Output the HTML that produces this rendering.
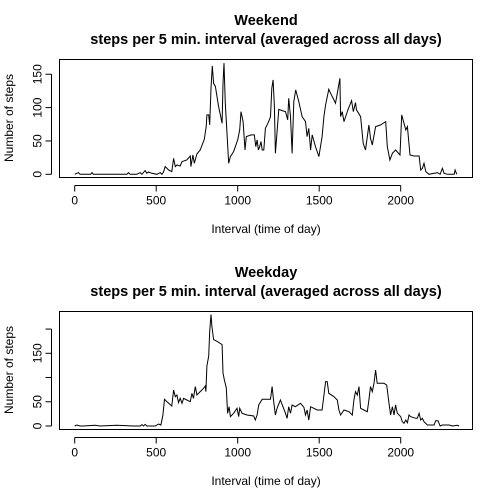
<!DOCTYPE html>
<html><head><meta charset="utf-8"><style>
body{margin:0;background:#fff;}
svg{display:block;font-family:"Liberation Sans",Arial,sans-serif;}
</style></head><body>
<svg id="c" width="504" height="504" xmlns="http://www.w3.org/2000/svg">
<rect width="504" height="504" fill="#fff"/>
</svg>
<script>
const weekendIntervals=[0,23,33,98,107,115,320,330,340,381,402,412,432,443,453,473,504,525,535,545,555,576,596,607,617,627,647,658,688,709,713,725,734,750,770,795,807,811,822,828,836,844,852,863,883,904,910,916,924,934,945,955,975,1000,1012,1020,1033,1045,1053,1082,1102,1111,1119,1127,1135,1143,1150,1160,1170,1190,1201,1209,1217,1225,1231,1252,1272,1293,1307,1313,1324,1334,1344,1356,1375,1395,1416,1426,1436,1447,1457,1477,1498,1518,1529,1539,1559,1570,1590,1600,1615,1627,1631,1641,1652,1676,1699,1709,1723,1729,1754,1770,1784,1805,1815,1826,1846,1877,1908,1918,1934,1949,1969,1996,2006,2020,2031,2041,2057,2082,2113,2123,2133,2143,2154,2174,2225,2242,2256,2266,2287,2328,2334,2344];
const weekendSteps=[0,2.5,0,0,2.5,0,0,2.5,0,0,2.5,0,5.5,1.5,3.5,1.5,0,2.5,0,3.5,11.5,6.5,4,24,11.5,14,12.5,19,21.5,27.5,11.5,29,16.5,30.5,36.5,52.5,71.5,89,89,74,129,162.5,136.5,131.5,101.5,76.5,136.5,166.5,106.5,64,16.5,26.5,34,51.5,66.5,94,79,36.5,56.5,59,59,41.5,51.5,36.5,41.5,49,36.5,36.5,69,79,86.5,129,141.5,101.5,31.5,97.5,95.5,94,81.5,114,86.5,31.5,109,126.5,109,86.5,79,56.5,69,36.5,59,41.5,26.5,56.5,86.5,104,127.5,121.5,111.5,106.5,126.5,144,86.5,94,79,96.5,110.5,94,107.5,96.5,86.5,46.5,36.5,74,54,44,71.5,74,79,41.5,21.5,31.5,36.5,29,89,76.5,66.5,71.5,29,27.5,27.5,6.5,9,16.5,4,0,2.5,0,9,1.5,0,0,6.5,0];
const weekdayIntervals=[0,12,33,53,125,156,258,361,402,412,422,432,443,494,514,529,541,551,566,596,607,617,627,637,647,658,668,688,709,719,729,740,750,770,791,801,805,811,822,828,836,842,852,873,904,910,918,930,938,947,955,975,996,1006,1012,1027,1057,1098,1108,1119,1129,1150,1180,1201,1211,1221,1231,1242,1262,1293,1303,1313,1324,1334,1354,1385,1406,1416,1426,1436,1447,1488,1518,1539,1549,1559,1590,1611,1621,1631,1652,1682,1703,1713,1723,1734,1744,1754,1774,1795,1805,1815,1826,1836,1846,1856,1897,1914,1928,1938,1949,1959,1969,1979,2000,2010,2020,2031,2041,2051,2061,2092,2102,2113,2123,2133,2143,2164,2205,2215,2229,2242,2256,2277,2297,2318,2348,2358];
const weekdaySteps=[0,2,0,0,1.4,0,1.4,0,0,2.8,0,3.4,0,0,4.1,2.1,22.7,55,50.2,41.3,74.3,60.5,64,48.2,57.1,46.8,57.1,53.7,50.2,67.4,57.1,81.2,64,70.9,77.7,82.6,70.9,123.8,144.5,195.4,229.8,205.7,178.2,174.8,167.9,109.4,95.7,78.4,26.1,39.9,19.3,26.1,36.5,19.3,36.5,26.1,22.7,20.6,12.4,22.7,43.3,55,55,55,81.2,50.2,22.7,36.5,53.7,26.1,15.8,39.9,26.1,43.3,39.9,46.8,38.5,22.7,33,12.4,39.9,33,33,91.5,91.5,67.4,60.5,53.7,33,22.7,33,29.6,22.7,53.7,70.9,64,81.2,36.5,33,29.6,53.7,81.2,70.9,88.1,115.6,88.1,88.1,84.6,46.8,22.7,39.9,22.7,43.3,26.1,19.3,9,5.5,12.4,6.9,22.7,19.3,15.8,15.8,26.1,12.4,15.8,8.9,2.1,2.1,11,11,0,2.1,2.1,2.1,0,1.4,0];
const xTicks=[0,500,1000,1500,2000];
const weekendYTicks=[0,50,100,150];
const weekendYLabels=["0","50","100","150"];
const weekdayYTicks=[0,50,100,150,200];
const weekdayYLabels=["0","50","","150",""];

const NS="http://www.w3.org/2000/svg";
const svg=document.getElementById('c');
function mk(t,a,p){const e=document.createElementNS(NS,t);for(const k in a)e.setAttribute(k,a[k]);(p||svg).appendChild(e);return e;}
const xS=v=>74.7+v*0.163;

function panel(cfg){
  const g=mk('g',{});
  
  
  const yS=v=>cfg.y0-v*cfg.k;
  let t=mk('text',{x:266,y:cfg.top-34,'text-anchor':'middle','font-size':14.5,'font-weight':'bold'},g);t.textContent=cfg.title;
  
  t=mk('text',{x:266,y:cfg.top-15,'text-anchor':'middle','font-size':14.5,'font-weight':'bold'},g);t.textContent='steps per 5 min. interval (averaged across all days)';
  
  const box=mk('rect',{x:59.5,y:cfg.top+0.5,width:413,height:118,fill:'none',stroke:'#000','stroke-width':1},g);
  
  const xa=mk('g',{},g);
  
  const ay=cfg.top+126.5;
  mk('line',{x1:xS(xTicks[0]),x2:xS(xTicks[xTicks.length-1]),y1:ay,y2:ay,stroke:'#000'},xa);
  xTicks.forEach(v=>{mk('line',{x1:xS(v),x2:xS(v),y1:ay,y2:ay+6,stroke:'#000'},xa);
    const l=mk('text',{x:xS(v),y:ay+19,'text-anchor':'middle','font-size':12},xa);l.textContent=v;
    });
  t=mk('text',{x:266,y:cfg.top+174,'text-anchor':'middle','font-size':12},g);t.textContent='Interval (time of day)';
  
  const ya=mk('g',{},g);
  
  const axx=51.5;
  mk('line',{x1:axx,x2:axx,y1:yS(cfg.yt[0]),y2:yS(cfg.yt[cfg.yt.length-1]),stroke:'#000'},ya);
  cfg.yt.forEach((v,i)=>{mk('line',{x1:axx-6,x2:axx,y1:yS(v),y2:yS(v),stroke:'#000'},ya);
    if(cfg.yl[i]){const l=mk('text',{x:0,y:0,'text-anchor':'middle','font-size':12,transform:`translate(${axx-10},${yS(v)}) rotate(-90)`},ya);l.textContent=cfg.yl[i];
    }});
  t=mk('text',{x:0,y:0,'text-anchor':'middle','font-size':12,transform:`translate(13,${cfg.top+59}) rotate(-90)`},g);t.textContent='Number of steps';
  
  const pts=cfg.xs.map((x,i)=>xS(x).toFixed(1)+','+yS(cfg.ys[i]).toFixed(1)).join(' ');
  const pl=mk('polyline',{points:pts,fill:'none',stroke:'#000','stroke-width':1},g);
  
}
panel({name:'weekend-panel',title:'Weekend',top:59,y0:174.3,k:0.667,xs:weekendIntervals,ys:weekendSteps,yt:weekendYTicks,yl:weekendYLabels});
panel({name:'weekday-panel',title:'Weekday',top:311,y0:426,k:0.4847,xs:weekdayIntervals,ys:weekdaySteps,yt:weekdayYTicks,yl:weekdayYLabels});
</script>
</body></html>
